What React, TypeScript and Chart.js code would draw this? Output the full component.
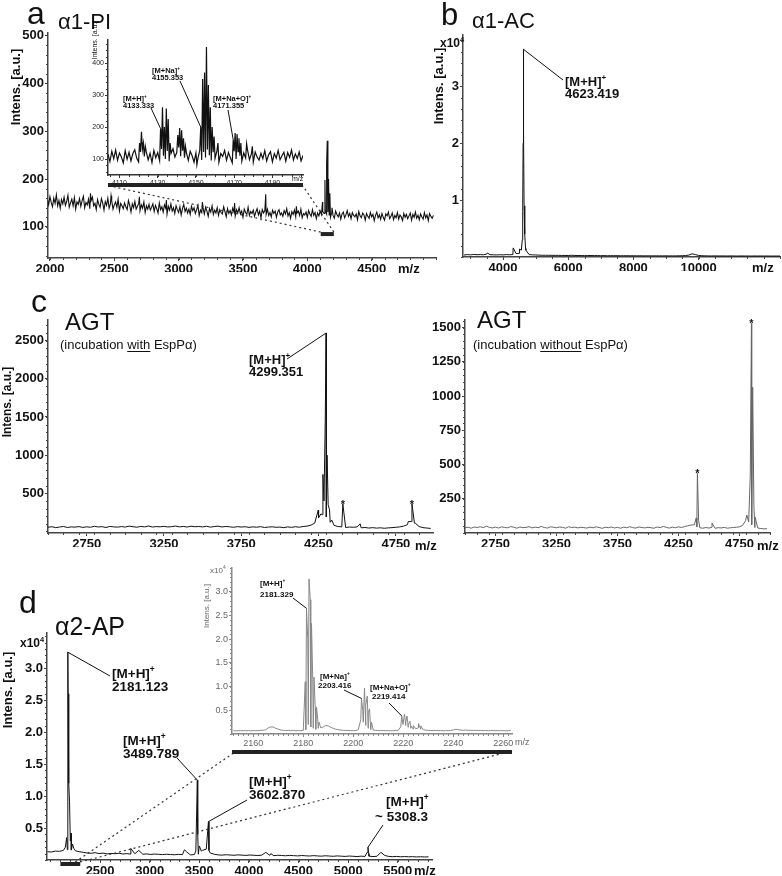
import React, { useEffect, useRef } from "react";
import { Chart, registerables } from "chart.js";
Chart.register(...registerables);

const W = 782, H = 876;
const FONT = '"Liberation Sans", Arial, Helvetica, sans-serif';

// ---------------- DATA ----------------
// panel a (alpha1-PI), main spectrum: baseline sampled every 10 m/z from 1980
const aBaseStart = 1980, aBaseStep = 10;
const aBase = [
  158,146,163,151,142,160,149,167,144,155,
  139,157,148,162,145,153,166,141,150,158,
  144,161,137,152,147,159,143,155,164,140,
  151,146,158,138,155,162,144,149,136,157,
  147,141,159,150,135,153,145,160,139,148,
  155,137,146,152,141,158,133,149,144,138,
  150,142,136,155,145,131,148,140,153,137,
  143,149,134,146,139,152,130,144,137,147,
  135,141,148,132,145,138,129,150,136,142,
  131,146,139,127,143,135,148,133,140,128,
  144,136,130,142,125,138,147,132,139,129,
  137,126,143,134,140,128,136,145,124,135,
  130,139,127,141,133,122,138,131,144,126,
  135,129,140,124,136,130,127,142,132,121,
  138,128,134,125,139,131,123,136,129,140,
  127,133,120,137,130,126,141,124,132,128,
  135,122,131,138,125,133,119,136,129,134,
  126,137,124,130,121,135,128,133,120,131,
  136,125,129,122,134,127,138,123,130,118,
  132,126,135,121,129,133,124,137,119,128,
  125,131,120,134,127,122,136,124,130,117,
  129,123,133,126,132,128,135,127,131,125,
  120,130,124,118,133,126,121,129,116,127,
  131,119,125,134,122,128,117,130,124,121,
  127,115,132,123,119,129,125,114,128,122,
  118,130,121,126,113,124,131,119,125,116,
  128,120,114,127,123,131,117,122,129,115,
  124,119,130,116,125,121,113,128,120,126,
  117,123,129,114,126,120,131,118,124,115,
  127,121,116,130,119,125,113,128,122,118,
  124,
];
const aPeakMz = [2315, 2475, 2695, 2905, 3185, 3435, 3677, 3915, 4118, 4137, 4150, 4155, 4165, 4175, 4192];
const aPeakInt = [170, 165, 163, 156, 152, 150, 168, 143, 152, 198, 230, 280, 200, 170, 140];

// panel a inset (4104-4206), baseline every 1 m/z
const aiBaseStart = 4104, aiBaseStep = 1;
const aiBase = [
  115,92,124,101,128,96,119,106,88,126,
  99,121,94,117,129,103,91,122,130,108,
  123,97,118,89,127,104,120,95,131,110,
  100,125,93,118,132,106,121,136,109,126,
  104,120,96,124,110,90,119,101,127,97,
  122,105,130,112,95,121,102,126,90,117,
  108,127,96,120,104,88,124,100,123,110,
  93,119,103,128,98,116,90,122,106,97,
  118,101,126,94,113,123,91,117,103,127,
  98,110,121,93,120,105,128,97,116,102,
  122,94,111,
];
const aiPeakMz = [4120.5,4121.5,4122.5,4123.5,4131.5,4132.5,4133.5,4134.5,4135.5,4136.5,4140.5,4141.5,4142.5,4143.5,4144.5,4150.5,4152.5,4153.5,4154.5,4155.5,4156.5,4157.5,4158.5,4159.5,4161.5,4169.5,4170.5,4171.5,4172.5,4173.5,4176.5,4179.5];
const aiPeakInt = [150,185,150,140,195,262,200,258,225,150,175,197,190,165,140,82,200,350,370,450,331,262,200,170,150,160,181,178,165,150,148,140];

// panel b (alpha1-AC), baseline every 100 m/z from 2800
const bBaseStart = 2800, bBaseStep = 100;
const bBase = [
  350,420,380,450,400,430,390,520,410,380,
  360,400,370,420,390,430,600,650,5000,1200,
  420,380,350,330,300,310,290,300,280,290,
  270,280,260,300,270,250,260,240,250,260,
  240,250,230,240,220,235,225,230,215,225,
  220,210,225,205,215,200,210,205,195,205,
  200,195,205,190,200,195,205,220,260,330,
  560,420,280,220,200,190,185,195,180,190,
  185,175,190,180,170,185,175,180,170,178,
  172,180,168,175,170,165,172,168,
];
const bPeakMz = [3520, 4310, 4505, 4560, 4590, 4605, 4615, 4623, 4632, 4645, 4665, 4690];
const bPeakInt = [700, 1600, 1400, 1200, 3000, 8000, 20000, 36500, 22000, 9000, 4000, 1500];

// panel c left (AGT with EspP), baseline every 25 m/z from 2500
const cLBaseStart = 2500, cLBaseStep = 25;
const cLBase = [
  55,62,50,58,66,52,60,57,64,53,
  61,55,68,59,63,52,66,60,57,64,
  58,70,62,56,66,60,72,58,64,61,
  67,59,63,71,60,66,58,69,62,65,
  60,68,57,64,70,59,66,61,55,63,
  58,62,54,60,56,63,52,58,61,55,
  57,50,60,54,62,56,65,70,82,110,
  180,220,190,120,80,65,60,52,58,55,
  60,48,52,45,50,44,48,42,47,50,
  55,60,70,90,130,110,65,50,45,40,
];
const cLPeakMz = [4248, 4265, 4278, 4285, 4293, 4299, 4305, 4312, 4321, 4335, 4407, 4519, 4830, 4854, 4870];
const cLPeakInt = [280, 230, 747, 400, 1440, 2600, 1000, 350, 283, 150, 360, 100, 130, 360, 110];

// panel c right (AGT without EspP)
const cRBaseStart = 2500, cRBaseStep = 25;
const cRBase = [
  38,42,35,44,40,46,39,50,41,37,
  43,36,45,40,38,47,42,35,44,39,
  41,46,37,43,39,48,40,36,45,42,
  38,44,41,35,46,40,43,37,42,39,
  36,43,38,45,40,34,42,39,44,37,
  41,35,43,38,46,39,36,44,40,37,
  42,38,35,44,39,48,41,36,43,38,
  45,40,47,52,58,60,45,38,35,40,
  36,42,34,39,37,41,35,38,40,42,
  45,55,90,80,60,40,36,33,30,32,
];
const cRPeakMz = [4380, 4395, 4405, 4415, 4525, 4810, 4838, 4848, 4858, 4868, 4877];
const cRPeakInt = [60, 110, 437, 90, 73, 131, 408, 1530, 1064, 200, 117];

// panel d (alpha2-AP), baseline every 40 m/z from 1970
const dBaseStart = 1970, dBaseStep = 40;
const dBase = [
  1300,1250,1400,1350,1500,1600,1550,1450,1300,1200,
  1100,1050,1150,1000,1080,950,1020,980,1060,940,
  1000,920,980,1500,900,950,870,930,890,850,
  900,860,820,880,840,1300,800,850,900,1500,
  1700,1100,900,800,760,820,780,740,800,760,
  720,780,740,700,760,1200,720,680,740,700,
  660,720,680,640,700,660,620,680,640,600,
  660,620,580,640,600,560,620,580,540,600,
  560,600,540,580,1200,700,560,520,560,500,
  540,500,520,480,510,470,500,
];
const dPeakMz = [2150, 2163, 2175, 2178, 2184, 2192, 2200, 2208, 2222, 2235, 2810, 3350, 3465, 3480, 3484, 3500, 3508, 3520, 3592, 3597, 4220, 5192, 5200, 5207];
const dPeakInt = [2000, 3500, 32500, 26000, 12000, 9200, 3000, 4200, 2500, 1800, 1800, 1600, 1400, 12500, 4000, 2200, 1900, 1400, 6000, 1500, 1000, 1200, 2000, 1000];

// panel d inset (2151.5-2263.5), baseline every 1 m/z from 2152
const diBaseStart = 2152, diBaseStep = 1;
const diBase = [
  700,650,720,680,740,690,710,660,730,700,
  720,760,800,900,1300,1500,1450,1200,1000,850,
  780,720,760,700,740,680,720,700,750,900,
  2000,1500,1200,1000,1200,1300,1500,1800,1700,1400,
  1200,1000,900,820,780,740,760,720,700,740,
  900,3000,2500,1800,1200,900,800,760,720,700,
  740,700,720,680,700,760,800,1500,2000,1800,
  1400,1200,1000,1100,1300,1000,900,800,760,740,
  720,760,700,740,680,720,700,750,850,1000,
  900,820,780,850,760,800,740,780,720,760,
  700,740,680,720,760,700,740,690,720,680,
  700,720,
];
const diPeakMz = [2180.8,2181.3,2181.8,2182.3,2182.8,2183.3,2183.8,2184.3,2184.8,2185.3,2185.8,2186.3,2203.3,2203.8,2204.5,2205,2205.6,2206,2206.5,2207.3,2219.4,2219.9,2220.5,2221,2221.5,2222,2222.7,2223.3,2224,2226.1,2227];
const diPeakInt = [11000,26500,20000,32700,28300,23300,11500,12000,5500,5700,3000,2500,7500,5000,9700,6000,8000,4500,5300,2500,3800,2000,4200,2500,3800,2000,2700,1600,1800,2200,1700];

// tick labels
const aXTicks = [2000, 2500, 3000, 3500, 4000, 4500];
const aYTicks = [100, 200, 300, 400, 500];
const aiXTicks = [4110, 4130, 4150, 4170, 4190];
const aiYTicks = [100, 200, 300, 400];
const bXTicks = [4000, 6000, 8000, 10000];
const bYTicks = [10000, 20000, 30000];
const cXTicks = [2750, 3250, 3750, 4250, 4750];
const cLYTicks = [500, 1000, 1500, 2000, 2500];
const cRYTicks = [250, 500, 750, 1000, 1250, 1500];
const dXTicks = [2500, 3000, 3500, 4000, 4500, 5000, 5500];
const dYTicks = [5000, 10000, 15000, 20000, 25000, 30000];
const diXTicks = [2160, 2180, 2200, 2220, 2240, 2260];
const diYTicks = [5000, 10000, 15000, 20000, 25000, 30000];

// ---------------- HELPERS ----------------
type Pt = { x: number; y: number };
function spectrum(start: number, step: number, base: number[], pkMz: number[], pkInt: number[]): Pt[] {
  const pts: Pt[] = base.map((v, i) => ({ x: start + i * step, y: v }));
  pkMz.forEach((m, i) => pts.push({ x: m, y: pkInt[i] }));
  pts.sort((p, q) => p.x - q.x);
  return pts;
}

type TextItem = { s: string; x: number; y: number; size: number; bold?: boolean; color?: string; rot?: boolean };
type Anno = { mz: number; v: number; lx: number; ly: number; lines: [string, number, number][] };
type Bar = { from: number; to: number; yVal?: number; yPx?: number; h: number };
type Dash = { mz: number; toX: number; toY: number };

type PanelCfg = {
  area: [number, number, number, number];
  xr: [number, number];
  yr: [number, number];
  xTicks: number[];
  yTicks: number[];
  yFmt?: (v: number) => string;
  tickSize: number;
  tickBold: boolean;
  tickColor: string;
  axisColor: string;
  xMinor: number;
  yMinor: number;
  data: Pt[];
  color: string;
  lw: number;
  annos?: Anno[];
  annoSize?: number;
  texts?: TextItem[];
  stars?: [number, number][];
  bar?: Bar;
  dashes?: Dash[];
};

function segs(s: string) {
  const out: { t: string; sup: boolean; u: boolean }[] = [];
  let u = false;
  for (let i = 0; i < s.length; i++) {
    const ch = s[i];
    if (ch === "_") { u = !u; continue; }
    if (ch === "^") { out.push({ t: s[i + 1], sup: true, u }); i++; continue; }
    const last = out[out.length - 1];
    if (last && !last.sup && last.u === u) last.t += ch;
    else out.push({ t: ch, sup: false, u });
  }
  return out;
}

function drawRich(ctx: CanvasRenderingContext2D, s: string, x: number, y: number, size: number, bold: boolean, color: string) {
  let cx = x;
  ctx.fillStyle = color;
  ctx.textAlign = "left";
  ctx.textBaseline = "alphabetic";
  for (const g of segs(s)) {
    const sz = g.sup ? size * 0.62 : size;
    ctx.font = `${bold ? "bold " : ""}${sz}px ${FONT}`;
    const yy = g.sup ? y - size * 0.45 : y;
    ctx.fillText(g.t, cx, yy);
    const w = ctx.measureText(g.t).width;
    if (g.u) ctx.fillRect(cx, y + 2, w, 1);
    cx += w;
  }
}

function drawText(ctx: CanvasRenderingContext2D, t: TextItem) {
  const color = t.color || "#111";
  if (t.rot) {
    ctx.save();
    ctx.translate(t.x, t.y);
    ctx.rotate(-Math.PI / 2);
    ctx.font = `${t.bold ? "bold " : ""}${t.size}px ${FONT}`;
    ctx.fillStyle = color;
    ctx.textAlign = "center";
    ctx.textBaseline = "middle";
    ctx.fillText(t.s, 0, 0);
    ctx.restore();
  } else {
    drawRich(ctx, t.s, t.x, t.y, t.size, !!t.bold, color);
  }
}

function decorate(chart: any, c: PanelCfg) {
  const ctx: CanvasRenderingContext2D = chart.ctx;
  const xs = chart.scales.x, ys = chart.scales.y;
  const ca = chart.chartArea;
  ctx.save();
  // minor ticks
  ctx.strokeStyle = c.axisColor;
  ctx.lineWidth = 1;
  ctx.beginPath();
  for (let v = Math.ceil(c.xr[0] / c.xMinor) * c.xMinor; v <= c.xr[1]; v += c.xMinor) {
    const px = Math.round(xs.getPixelForValue(v)) + 0.5;
    ctx.moveTo(px, ca.bottom);
    ctx.lineTo(px, ca.bottom + 2);
  }
  for (let v = Math.ceil(c.yr[0] / c.yMinor) * c.yMinor; v <= c.yr[1]; v += c.yMinor) {
    const py = Math.round(ys.getPixelForValue(v)) + 0.5;
    ctx.moveTo(ca.left - 2, py);
    ctx.lineTo(ca.left, py);
  }
  ctx.stroke();

  // zoom bar + dashed connectors
  if (c.bar) {
    const b = c.bar;
    const x0 = xs.getPixelForValue(b.from), x1 = xs.getPixelForValue(b.to);
    const yc = b.yVal !== undefined ? ys.getPixelForValue(b.yVal) : (b.yPx as number);
    ctx.fillStyle = "#222";
    ctx.fillRect(x0, yc - b.h / 2, x1 - x0, b.h);
    if (c.dashes) {
      ctx.strokeStyle = "#333";
      ctx.lineWidth = 1.2;
      ctx.setLineDash([2, 3]);
      for (const d of c.dashes) {
        ctx.beginPath();
        ctx.moveTo(xs.getPixelForValue(d.mz), yc - b.h / 2);
        ctx.lineTo(d.toX, d.toY);
        ctx.stroke();
      }
      ctx.setLineDash([]);
    }
  }

  // annotations
  if (c.annos) {
    for (const a of c.annos) {
      ctx.strokeStyle = "#111";
      ctx.lineWidth = 1;
      ctx.beginPath();
      ctx.moveTo(xs.getPixelForValue(a.mz), ys.getPixelForValue(a.v));
      ctx.lineTo(a.lx, a.ly);
      ctx.stroke();
      for (const [s, x, y] of a.lines) drawRich(ctx, s, x, y, c.annoSize || 13, true, "#111");
    }
  }
  // asterisks
  if (c.stars) {
    ctx.fillStyle = "#111";
    ctx.font = `bold 11px ${FONT}`;
    ctx.textAlign = "center";
    ctx.textBaseline = "alphabetic";
    for (const [m, v] of c.stars) {
      ctx.fillText("*", xs.getPixelForValue(m), ys.getPixelForValue(v) + 4);
    }
  }
  if (c.texts) for (const t of c.texts) drawText(ctx, t);
  ctx.restore();
}

function makeConfig(c: PanelCfg): any {
  const yW = 40, xH = 14;
  const [l, t, r, b] = c.area;
  const font = { family: FONT, size: c.tickSize, weight: c.tickBold ? "bold" : "normal" };
  return {
    type: "line",
    data: {
      datasets: [{
        data: c.data,
        borderColor: c.color,
        borderWidth: c.lw,
        pointRadius: 0,
        tension: 0,
        fill: false,
      }],
    },
    options: {
      animation: false,
      responsive: false,
      devicePixelRatio: 1,
      events: [],
      layout: { padding: { left: l - yW, top: t, right: W - r, bottom: H - b - xH } },
      plugins: { legend: { display: false }, tooltip: { enabled: false }, title: { display: false } },
      scales: {
        x: {
          type: "linear",
          min: c.xr[0],
          max: c.xr[1],
          afterFit: (s: any) => { s.height = xH; },
          afterBuildTicks: (s: any) => { s.ticks = c.xTicks.map((v) => ({ value: v })); },
          ticks: { font, color: c.tickColor, padding: 1, maxRotation: 0, autoSkip: false, callback: (v: any) => String(v) },
          grid: { drawOnChartArea: false, drawTicks: true, tickLength: 3, color: c.axisColor },
          border: { display: true, color: c.axisColor, width: 1.5 },
        },
        y: {
          type: "linear",
          min: c.yr[0],
          max: c.yr[1],
          afterFit: (s: any) => { s.width = yW; },
          afterBuildTicks: (s: any) => { s.ticks = c.yTicks.map((v) => ({ value: v })); },
          ticks: { font, color: c.tickColor, padding: 1, autoSkip: false, callback: (v: any) => (c.yFmt ? c.yFmt(v) : String(v)) },
          grid: { drawOnChartArea: false, drawTicks: true, tickLength: 3, color: c.axisColor },
          border: { display: true, color: c.axisColor, width: 1.5 },
        },
      },
    },
    plugins: [{ id: "deco", afterDraw: (chart: any) => decorate(chart, c) }],
  };
}

function Panel({ cfg }: { cfg: PanelCfg }) {
  const ref = useRef<HTMLCanvasElement>(null);
  useEffect(() => {
    const chart = new Chart(ref.current as HTMLCanvasElement, makeConfig(cfg));
    return () => chart.destroy();
  }, []);
  return (
    <canvas
      ref={ref}
      width={W}
      height={H}
      style={{ position: "absolute", left: 0, top: 0, width: W, height: H }}
    />
  );
}

const e4 = (v: number) => String(v / 10000);
const e4f = (v: number) => (v / 10000).toFixed(1);

// ---------------- PANELS ----------------
const panelA: PanelCfg = {
  area: [48, 33, 436, 258], xr: [1985, 5000], yr: [35, 505],
  xTicks: aXTicks, yTicks: aYTicks, tickSize: 13, tickBold: true, tickColor: "#111", axisColor: "#444",
  xMinor: 100, yMinor: 20,
  data: spectrum(aBaseStart, aBaseStep, aBase, aPeakMz, aPeakInt), color: "#111", lw: 1.1,
  bar: { from: 4104, to: 4206, yVal: 85, h: 4 },
  dashes: [{ mz: 4104, toX: 110, toY: 186 }, { mz: 4206, toX: 303, toY: 186 }],
  texts: [
    { s: "a", x: 27, y: 24, size: 32 },
    { s: "α1-PI", x: 58, y: 29, size: 22 },
    { s: "Intens. [a.u.]", x: 16, y: 87, size: 13, bold: true, rot: true },
    { s: "m/z", x: 398, y: 273, size: 13, bold: true },
  ],
};

const panelAI: PanelCfg = {
  area: [108, 40, 303, 175], xr: [4104, 4206], yr: [50, 472],
  xTicks: aiXTicks, yTicks: aiYTicks, tickSize: 7, tickBold: false, tickColor: "#222", axisColor: "#333",
  xMinor: 5, yMinor: 20,
  data: spectrum(aiBaseStart, aiBaseStep, aiBase, aiPeakMz, aiPeakInt), color: "#111", lw: 1.2,
  bar: { from: 4104, to: 4206, yPx: 185, h: 4 },
  annoSize: 7.5,
  annos: [
    { mz: 4131.5, v: 195, lx: 151, ly: 108, lines: [["[M+H]^+", 123, 101], ["4133.333", 123, 108]] },
    { mz: 4152.5, v: 200, lx: 180, ly: 81, lines: [["[M+Na]^+", 152, 73], ["4155.353", 152, 80]] },
    { mz: 4169.5, v: 160, lx: 228, ly: 110, lines: [["[M+Na+O]^+", 213, 101], ["4171.355", 213, 108]] },
  ],
  texts: [
    { s: "Intens. [a.u.]", x: 95, y: 40, size: 7, rot: true },
    { s: "m/z", x: 292, y: 181, size: 7 },
  ],
};

const panelB: PanelCfg = {
  area: [463, 35, 780, 257], xr: [2770, 12500], yr: [0, 39000],
  xTicks: bXTicks, yTicks: bYTicks, yFmt: e4, tickSize: 13, tickBold: true, tickColor: "#111", axisColor: "#444",
  xMinor: 500, yMinor: 2000,
  data: spectrum(bBaseStart, bBaseStep, bBase, bPeakMz, bPeakInt), color: "#111", lw: 1,
  annos: [{ mz: 4623, v: 36500, lx: 563, ly: 80, lines: [["[M+H]^+", 565, 86], ["4623.419", 565, 98]] }],
  texts: [
    { s: "b", x: 441, y: 25, size: 31 },
    { s: "α1-AC", x: 472, y: 28, size: 22 },
    { s: "x10^4", x: 440, y: 47, size: 12, bold: true },
    { s: "Intens. [a.u.]", x: 439, y: 86, size: 13, bold: true, rot: true },
    { s: "m/z", x: 752, y: 272, size: 13, bold: true },
  ],
};

const panelCL: PanelCfg = {
  area: [48, 320, 433, 533], xr: [2500, 4990], yr: [-20, 2770],
  xTicks: cXTicks, yTicks: cLYTicks, tickSize: 13, tickBold: true, tickColor: "#111", axisColor: "#444",
  xMinor: 100, yMinor: 100,
  data: spectrum(cLBaseStart, cLBaseStep, cLBase, cLPeakMz, cLPeakInt), color: "#111", lw: 1,
  annos: [{ mz: 4299, v: 2600, lx: 287, ly: 359, lines: [["[M+H]^+", 249, 364], ["4299.351", 249, 376]] }],
  stars: [[4407, 360], [4854, 360]],
  texts: [
    { s: "c", x: 31, y: 312, size: 32 },
    { s: "AGT", x: 65, y: 330, size: 24 },
    { s: "(incubation _with_ EspPα)", x: 60, y: 349, size: 13 },
    { s: "Intens. [a.u.]", x: 8, y: 402, size: 12, bold: true, rot: true },
    { s: "m/z", x: 415, y: 550, size: 13, bold: true },
  ],
};

const panelCR: PanelCfg = {
  area: [465, 320, 770, 533], xr: [2500, 5000], yr: [0, 1555],
  xTicks: cXTicks, yTicks: cRYTicks, tickSize: 13, tickBold: true, tickColor: "#111", axisColor: "#444",
  xMinor: 100, yMinor: 50,
  data: spectrum(cRBaseStart, cRBaseStep, cRBase, cRPeakMz, cRPeakInt), color: "#666", lw: 1,
  stars: [[4405, 437], [4848, 1530]],
  texts: [
    { s: "AGT", x: 477, y: 328, size: 24 },
    { s: "(incubation _without_ EspPα)", x: 473, y: 349, size: 13 },
    { s: "m/z", x: 757, y: 550, size: 13, bold: true },
  ],
};

const panelD: PanelCfg = {
  area: [47, 633, 432, 860], xr: [1965, 5845], yr: [0, 35500],
  xTicks: dXTicks, yTicks: dYTicks, yFmt: e4f, tickSize: 13, tickBold: true, tickColor: "#111", axisColor: "#444",
  xMinor: 100, yMinor: 1000,
  data: spectrum(dBaseStart, dBaseStep, dBase, dPeakMz, dPeakInt), color: "#111", lw: 1,
  bar: { from: 2100, to: 2300, yPx: 864, h: 4 },
  dashes: [{ mz: 2250, toX: 235, toY: 752 }, { mz: 2300, toX: 508, toY: 752 }],
  annoSize: 13.5,
  annos: [
    { mz: 2175, v: 32500, lx: 110, ly: 676, lines: [["[M+H]^+", 112, 678], ["2181.123", 112, 691]] },
    { mz: 3480, v: 12500, lx: 177, ly: 758, lines: [["[M+H]^+", 123, 745], ["3489.789", 123, 758]] },
    { mz: 3592, v: 6000, lx: 247, ly: 800, lines: [["[M+H]^+", 249, 786], ["3602.870", 249, 799]] },
    { mz: 5200, v: 2000, lx: 383, ly: 825, lines: [["[M+H]^+", 386, 806], ["~ 5308.3", 375, 821]] },
  ],
  texts: [
    { s: "d", x: 19, y: 613, size: 32 },
    { s: "α2-AP", x: 55, y: 635, size: 25 },
    { s: "x10^4", x: 20, y: 647, size: 12, bold: true },
    { s: "Intens. [a.u.]", x: 8, y: 690, size: 13, bold: true, rot: true },
    { s: "m/z", x: 414, y: 875, size: 13, bold: true },
  ],
};

const panelDI: PanelCfg = {
  area: [232, 568, 512, 734], xr: [2151.5, 2263.5], yr: [0, 35000],
  xTicks: diXTicks, yTicks: diYTicks, yFmt: e4f, tickSize: 9, tickBold: false, tickColor: "#666", axisColor: "#888",
  xMinor: 2, yMinor: 1000,
  data: spectrum(diBaseStart, diBaseStep, diBase, diPeakMz, diPeakInt), color: "#888", lw: 1,
  bar: { from: 2151.5, to: 2263.5, yPx: 752, h: 4 },
  annoSize: 8,
  annos: [
    { mz: 2181.3, v: 26500, lx: 293, ly: 598, lines: [["[M+H]^+", 260, 586], ["2181.329", 260, 597]] },
    { mz: 2203.3, v: 7500, lx: 344, ly: 690, lines: [["[M+Na]^+", 320, 679], ["2203.416", 318, 688]] },
    { mz: 2219.4, v: 3800, lx: 389, ly: 703, lines: [["[M+Na+O]^+", 370, 690], ["2219.414", 372, 699]] },
  ],
  texts: [
    { s: "x10^4", x: 210, y: 573, size: 8, color: "#666" },
    { s: "Intens. [a.u.]", x: 207, y: 606, size: 8, color: "#666", rot: true },
    { s: "m/z", x: 515, y: 745, size: 9, color: "#666" },
  ],
};

export default function App() {
  return (
    <div style={{ position: "absolute", left: 0, top: 0, width: W, height: H, background: "#fff", overflow: "hidden" }}>
      <Panel cfg={panelA} />
      <Panel cfg={panelAI} />
      <Panel cfg={panelB} />
      <Panel cfg={panelCL} />
      <Panel cfg={panelCR} />
      <Panel cfg={panelD} />
      <Panel cfg={panelDI} />
    </div>
  );
}
